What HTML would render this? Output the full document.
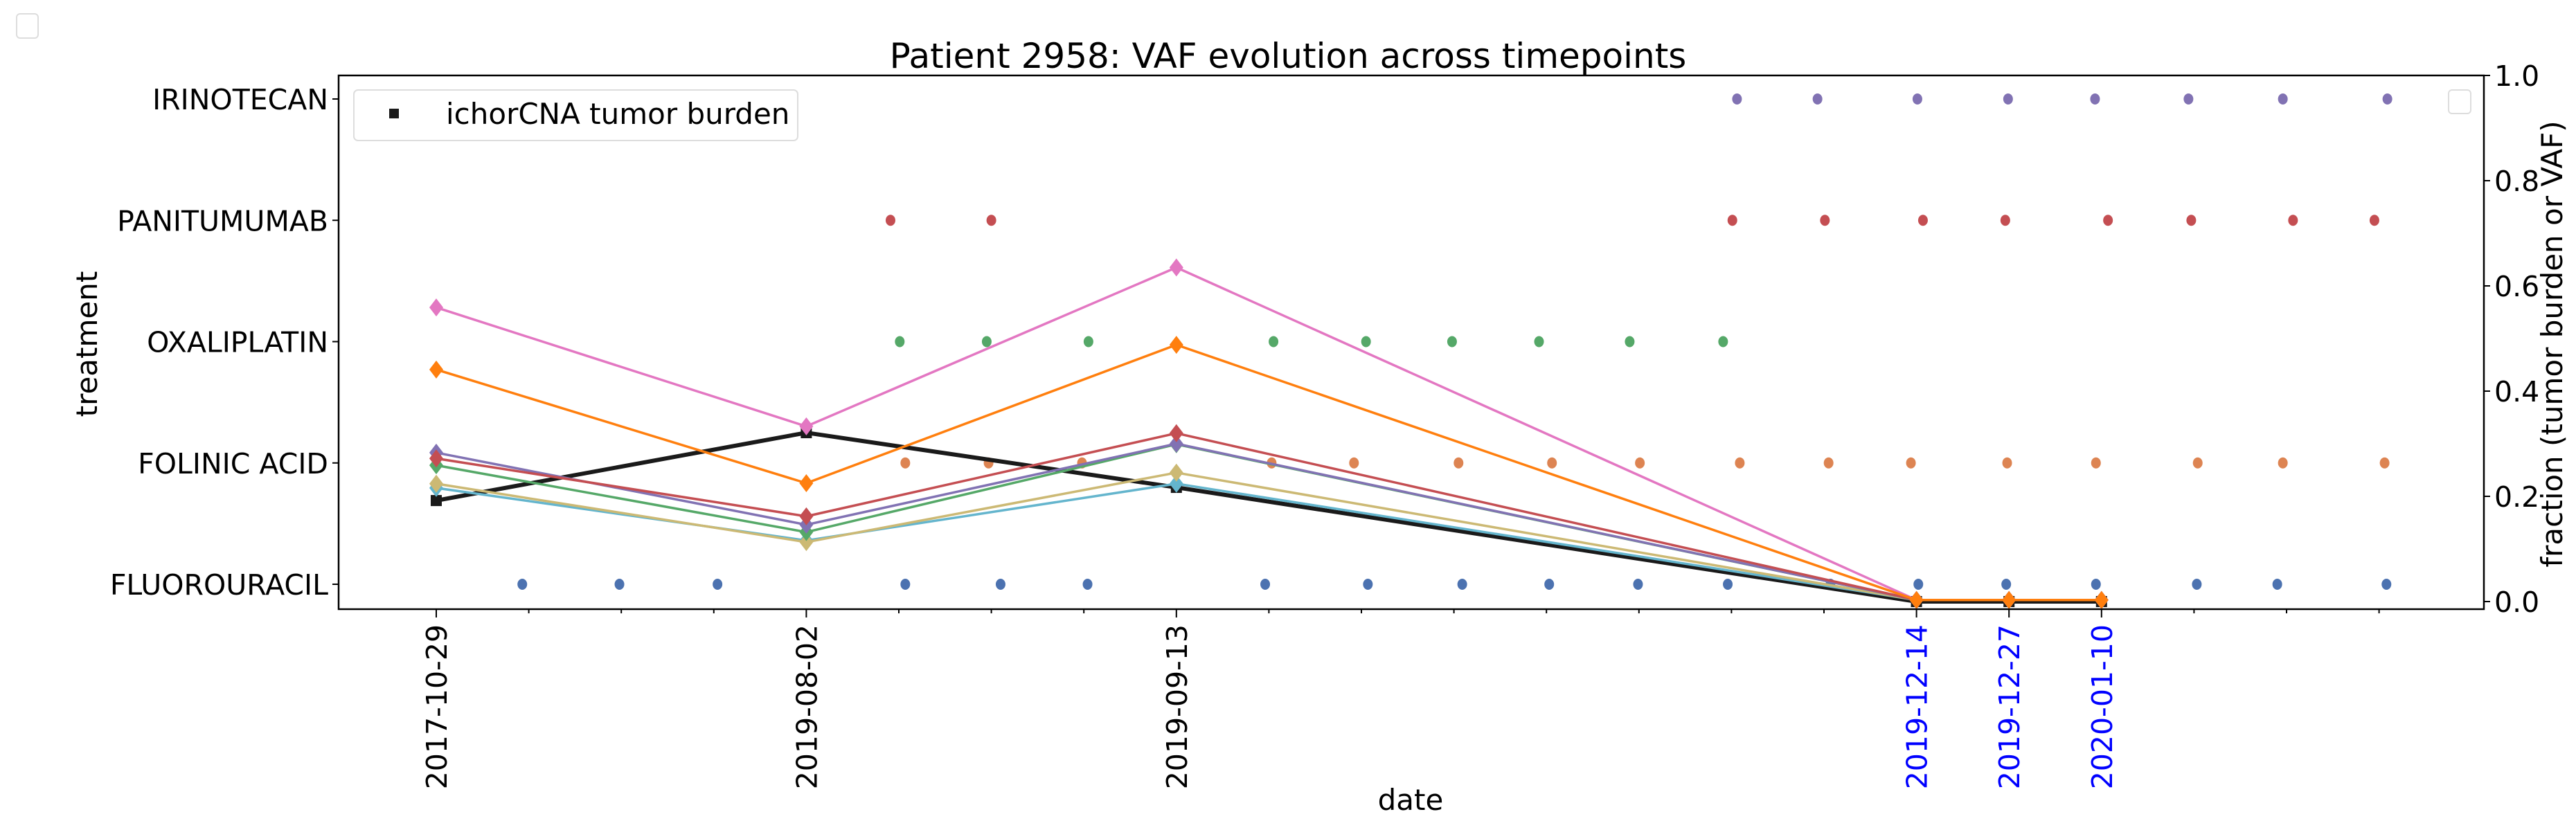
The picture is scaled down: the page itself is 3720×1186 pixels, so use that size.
<!DOCTYPE html>
<html><head><meta charset="utf-8"><style>
html,body{margin:0;padding:0;background:#fff;}
svg{display:block;font-family:"DejaVu Sans","Liberation Sans",sans-serif;}
</style></head><body>
<svg id="chart" width="3720" height="1186" viewBox="0 0 3720 1186" xmlns="http://www.w3.org/2000/svg">
<rect x="0" y="0" width="3720" height="1186" fill="#fff"/>
<rect x="24" y="20" width="31" height="35" rx="5" fill="none" stroke="#ddd" stroke-width="2"/>
<text x="1860" y="98" text-anchor="middle" font-size="50">Patient 2958: VAF evolution across timepoints</text>
<g id="dots"></g>
<g id="lines"></g>
<rect x="489" y="109" width="3098" height="771" fill="none" stroke="#000" stroke-width="2.5"/>
<g id="axes"></g>
<g>
<rect x="511" y="130" width="641" height="73" rx="6" fill="#fff" fill-opacity="0.8" stroke="#ddd" stroke-width="2"/>
<rect x="562" y="157" width="14" height="14" fill="#1a1a1a"/>
<text x="644" y="179" font-size="42">ichorCNA tumor burden</text>
</g>
<rect x="3536" y="130" width="32" height="34" rx="5" fill="none" stroke="#ddd" stroke-width="2"/>
<text transform="translate(140,497) rotate(-90)" text-anchor="middle" font-size="42">treatment</text>
<text transform="translate(3700,497) rotate(-90)" text-anchor="middle" font-size="42">fraction (tumor burden or VAF)</text>
<text x="2037" y="1170" text-anchor="middle" font-size="42">date</text>
</svg>
<script>
const treatments = ["FLUOROURACIL","FOLINIC ACID","OXALIPLATIN","PANITUMUMAB","IRINOTECAN"];
const treatmentColors = ["#4c72b0","#dd8452","#55a868","#c44e52","#8172b3"];
const fluorouracilDays = [0.93,1.98,3.04,5.07,6.10,7.04,8.96,10.07,11.09,12.03,12.99,13.96,15.07,16.02,16.97,17.94,19.03,19.90,21.08];
const folinicDays = [5.07,5.97,6.98,9.03,9.92,11.05,12.06,13.01,14.09,15.05,15.94,16.98,17.94,19.04,19.96,21.06];
const oxaliplatinDays = [5.01,5.95,7.05,9.05,10.05,10.98,11.92,12.90,13.91];
const panitumumabDays = [4.91,6.00,14.01,15.01,16.07,16.96,18.07,18.97,20.07,20.95];
const irinotecanDays = [14.06,14.93,16.01,16.99,17.93,18.94,19.96,21.09];
const timepointIdx = [0,4,8,16,17,18];
const timepointLabels = ["2017-10-29","2019-08-02","2019-09-13","2019-12-14","2019-12-27","2020-01-10"];
const timepointLabelColors = ["#000","#000","#000","#0000ff","#0000ff","#0000ff"];
const ichorValues = [0.192,0.321,0.217,0.0,0.0,0.0];
const vafPink = [0.559,0.333,0.635,0.003,0.003,0.003];
const vafOrange = [0.441,0.225,0.488,0.003,0.003,0.003];
const vafRed = [0.272,0.162,0.320,0.003,0.003,0.003];
const vafPurple = [0.283,0.146,0.300,0.003,0.003,0.003];
const vafGreen = [0.259,0.132,0.299,0.003,0.003,0.003];
const vafOlive = [0.224,0.113,0.245,0.003,0.003,0.003];
const vafCyan = [0.216,0.116,0.224,0.003,0.003,0.003];
const rightTicks = [0.0,0.2,0.4,0.6,0.8,1.0];

const NS="http://www.w3.org/2000/svg";
const X0=630, DX=133.6;
function xs(i){return X0+i*DX;}
function yCat(k){return 844-k*175.25;}
function yVal(v){return 869-v*760;}
function mk(tag,attrs,parent){const e=document.createElementNS(NS,tag);for(const k in attrs)e.setAttribute(k,attrs[k]);parent.appendChild(e);return e;}

const dotsG=document.getElementById('dots');
const allDays=[fluorouracilDays,folinicDays,oxaliplatinDays,panitumumabDays,irinotecanDays];
allDays.forEach((arr,k)=>{arr.forEach(d=>{
  const c=mk('ellipse',{cx:xs(d),cy:yCat(k),rx:7,ry:8,fill:treatmentColors[k]},dotsG);
  
  
});});

const linesG=document.getElementById('lines');
const series=[[vafCyan,"#64b5cd","cyan"],[vafOlive,"#ccb974","olive"],[vafGreen,"#55a868","green"],[vafPurple,"#8172b3","purple"],[vafRed,"#c44e52","red"],[vafPink,"#e377c2","pink"],[vafOrange,"#ff7f0e","orange"]];
function drawLine(vals,color,w,name){
  const pts=vals.map((v,i)=>xs(timepointIdx[i])+','+yVal(v)).join(' ');
  const l=mk('polyline',{points:pts,fill:'none',stroke:color,'stroke-width':w,'stroke-linejoin':'round'},linesG);
  
  
}
drawLine(ichorValues,"#1a1a1a",6,"ichorcna");
ichorValues.forEach((v,i)=>{
  const r=mk('rect',{x:xs(timepointIdx[i])-8,y:yVal(v)-8,width:16,height:16,fill:'#1a1a1a'},linesG);
  
  
});
series.forEach(s=>{
  drawLine(s[0],s[1],3.5,'vaf-'+s[2]);
  s[0].forEach((v,i)=>{
    const x=xs(timepointIdx[i]),y=yVal(v);
    const p=mk('polygon',{points:`${x},${y-13} ${x+10},${y} ${x},${y+13} ${x-10},${y}`,fill:s[1]},linesG);
    
    
  });
});

const axesG=document.getElementById('axes');
for(let i=0;i<=21;i++){
  const major=timepointIdx.indexOf(i)>=0;
  const t=mk('line',{x1:xs(i),x2:xs(i),y1:880,y2:major?892:886,stroke:'#000','stroke-width':2},axesG);
  
  
}
timepointIdx.forEach((idx,i)=>{
  const t=mk('text',{transform:`translate(${xs(idx)+15},902) rotate(-90)`,'text-anchor':'end','font-size':41,fill:timepointLabelColors[i]},axesG);
  t.textContent=timepointLabels[i];
  
  
});
treatments.forEach((n,k)=>{
  const tk=mk('line',{x1:480,x2:489,y1:yCat(k),y2:yCat(k),stroke:'#000','stroke-width':2},axesG);
  
  
  const t=mk('text',{x:474,y:yCat(k)+15,'text-anchor':'end','font-size':41},axesG);
  t.textContent=n;
  
  
});
rightTicks.forEach(v=>{
  const tk=mk('line',{x1:3587,x2:3596,y1:yVal(v),y2:yVal(v),stroke:'#000','stroke-width':2},axesG);
  
  
  const t=mk('text',{x:3602,y:yVal(v)+15,'font-size':41},axesG);
  t.textContent=v.toFixed(1);
  
  
});
</script>
</body></html>
